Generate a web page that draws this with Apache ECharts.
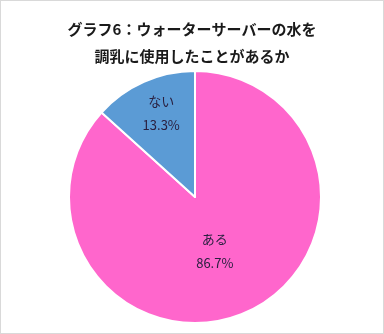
<!DOCTYPE html>
<html><head><meta charset="utf-8">
<script src="https://cdn.jsdelivr.net/npm/echarts@6/dist/echarts.min.js"></script>
<style>html,body{margin:0;padding:0;background:#fff}#c{width:384px;height:334px;box-sizing:border-box;border:1px solid #d9d9d9}</style>
</head><body><div id="c"></div>
<script>
const titleText = 'グラフ6：ウォーターサーバーの水を\n調乳に使用したことがあるか';
const categories = ['ある', 'ない'];
const values = [86.7, 13.3];
const colors = ['#FF66CC', '#5B9BD5'];

const chart = echarts.init(document.getElementById('c'));
chart.setOption({
  animation: false,
  title: {
    text: titleText, left: 'center', top: 10,
    textStyle: { fontFamily: 'Noto Sans CJK JP', fontSize: 15, fontWeight: 'bold', color: '#1a1a1a', lineHeight: 27 }
  },
  series: [{
    type: 'pie',
    center: [194, 196],
    radius: 126,
    startAngle: 90,
    clockwise: true,
    data: categories.map((n, i) => ({
      name: n, value: values[i],
      itemStyle: { color: colors[i] },
      label: i === 1 ? { offset: [-7, -24] } : { offset: [-7, -6] }
    })),
    itemStyle: { borderColor: '#fff', borderWidth: 2 },
    label: {
      position: 'inside',
      formatter: p => p.name + '\n' + p.value.toFixed(1) + '%',
      fontFamily: 'Noto Sans CJK JP', fontSize: 13, color: '#2a2040', lineHeight: 24
    },
    labelLine: { show: false }
  }]
});
</script></body></html>
